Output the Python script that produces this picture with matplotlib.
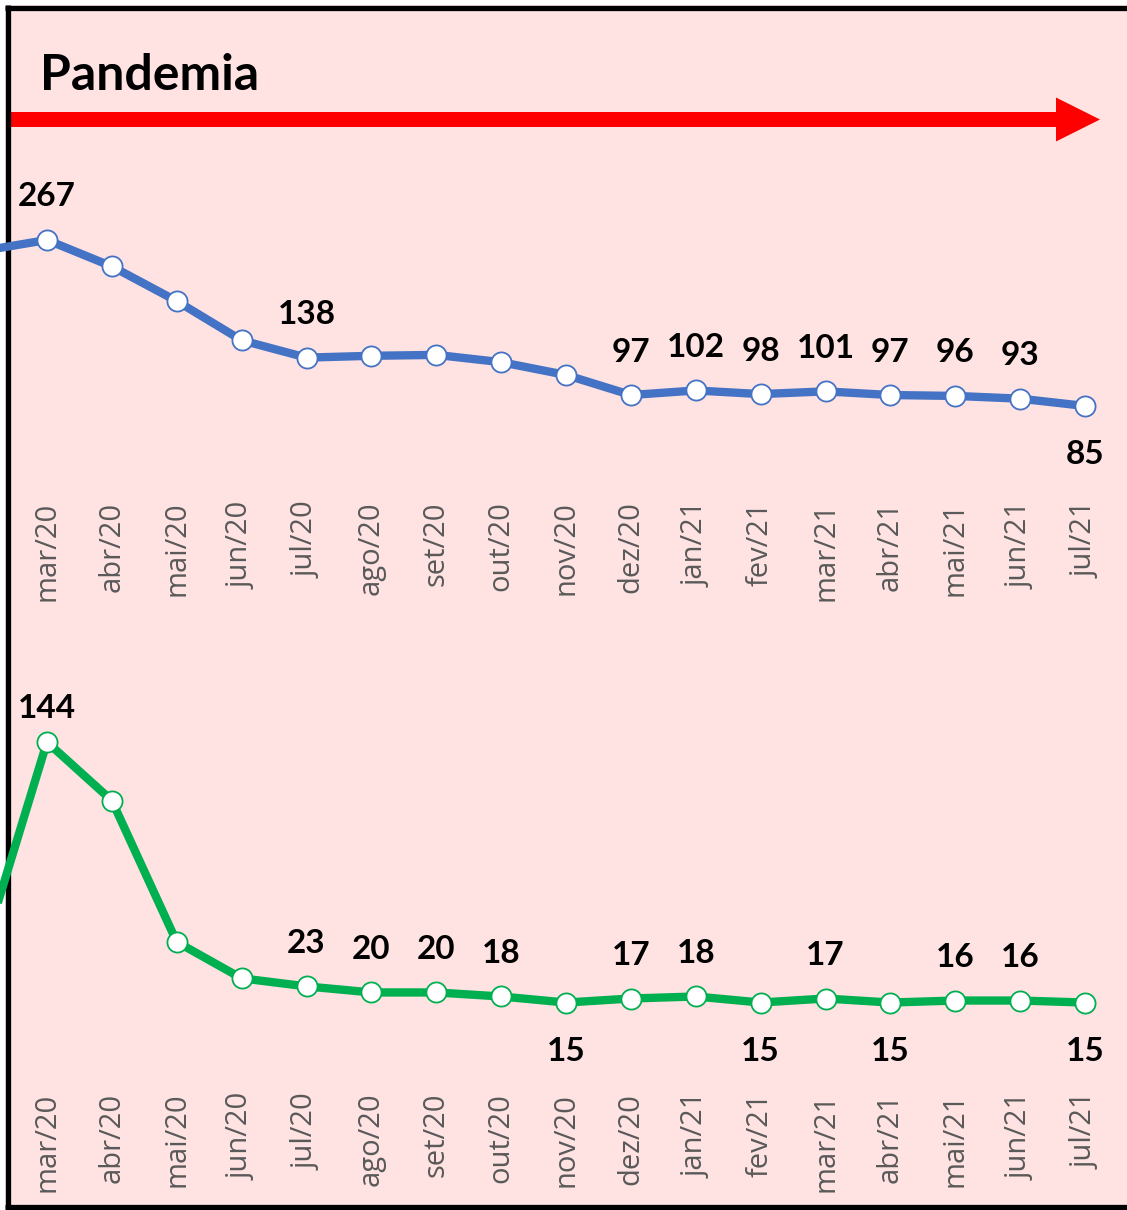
import matplotlib
matplotlib.use("Agg")
import matplotlib.pyplot as plt
from matplotlib.patches import FancyArrow, Rectangle

# ---- data ----
months = ["fev/20", "mar/20", "abr/20", "mai/20", "jun/20", "jul/20", "ago/20", "set/20",
          "out/20", "nov/20", "dez/20", "jan/21", "fev/21", "mar/21", "abr/21",
          "mai/21", "jun/21", "jul/21"]
top_values = [255, 267, 238, 200, 157, 138, 140, 141, 133, 119, 97, 102, 98, 101, 97, 96, 93, 85]
top_labels = [None, "267", None, None, None, "138", None, None, None, None,
              "97", "102", "98", "101", "97", "96", "93", "85"]
top_pos = ["", "a", "", "", "", "a", "", "", "", "", "a", "a", "a", "a", "a", "a", "a", "b"]

bot_values = [39, 144, 115, 45, 27, 23, 20, 20, 18, 15, 17, 18, 15, 17, 15, 16, 16, 15]
bot_labels = [None, "144", None, None, None, "23", "20", "20", "18", "15",
              "17", "18", "15", "17", "15", "16", "16", "15"]
bot_pos = ["", "a", "", "", "", "a", "a", "a", "a", "b", "a", "a", "b", "a", "b", "a", "a", "b"]

title_text = "Pandemia"

# ---- figure ----
W, H = 1127, 1210
fig = plt.figure(figsize=(W / 100, H / 100), dpi=100)
fig.patch.set_facecolor("white")

PINK = "#FFE2E2"
BLUE = "#4472C4"
GREEN = "#00B050"
GREY = "#595959"

# background overlay in pixel coordinates
bg = fig.add_axes([0, 0, 1, 1])
bg.set_xlim(0, W)
bg.set_ylim(H, 0)
bg.axis("off")
bg.add_patch(Rectangle((5, 5), W - 5, H - 10, facecolor=PINK, edgecolor="none"))
bg.plot([7.5, 7.5], [5, 1209], color="black", lw=3.8, solid_capstyle="butt")
bg.plot([5, W], [7.5, 7.5], color="black", lw=3.8, solid_capstyle="butt")
bg.plot([5, W], [1206.5, 1206.5], color="black", lw=3.8, solid_capstyle="butt")
bg.add_patch(FancyArrow(8, 119.5, 1092, 0, width=15, head_width=44, head_length=44,
                        length_includes_head=True, color="#FF0000", lw=0))
bg.text(40, 90, title_text, fontsize=36, fontweight="bold", family="Lato",
        ha="left", va="baseline", color="black")

# x mapping: index 1 (mar/20) at px 47, index 17 (jul/21) at px 1085
step = (1085 - 47) / 16
x0 = 1 - 47 / step
x1 = 1 + (W - 47) / step
xs = list(range(len(months)))


def panel(rect, values, labels, pos, color, ylim, off_up, off_dn, pad, overrides=None):
    ax = fig.add_axes(rect)
    ax.set_facecolor("none")
    ax.plot(xs, values, color=color, lw=6, marker="o", markersize=14.5,
            markerfacecolor="white", markeredgecolor=color, markeredgewidth=1.3,
            solid_joinstyle="round", zorder=3)
    ax.set_xlim(x0, x1)
    ax.set_ylim(*ylim)
    for s in ax.spines.values():
        s.set_visible(False)
    ax.set_yticks([])
    ax.set_xticks(xs[1:])
    ax.set_xticklabels(months[1:], rotation=90, fontsize=21, family="Open Sans", color=GREY)
    ax.tick_params(axis="x", length=0, pad=pad)
    for i, (v, lab, p) in enumerate(zip(values, labels, pos)):
        if not lab:
            continue
        dy = off_up if p == "a" else -off_dn
        if overrides and i in overrides:
            dy = overrides[i]
        ax.annotate(lab, (i, v), xytext=(0, dy), textcoords="offset pixels",
                    ha="center", va="center", fontsize=24, fontweight="bold",
                    family="Lato", color="black", zorder=4)
    return ax


panel([0, 1 - 500 / H, 1, 360 / H], top_values, top_labels, top_pos, BLUE,
      (-18.1, 376.6), 43, 49, 1)
panel([0, 1 - 1090 / H, 1, 450 / H], bot_values, bot_labels, bot_pos, GREEN,
      (-28.3, 194.5), 43, 49, 2, overrides={1: 33})

fig.savefig("out.png", dpi=100, facecolor=fig.get_facecolor())
